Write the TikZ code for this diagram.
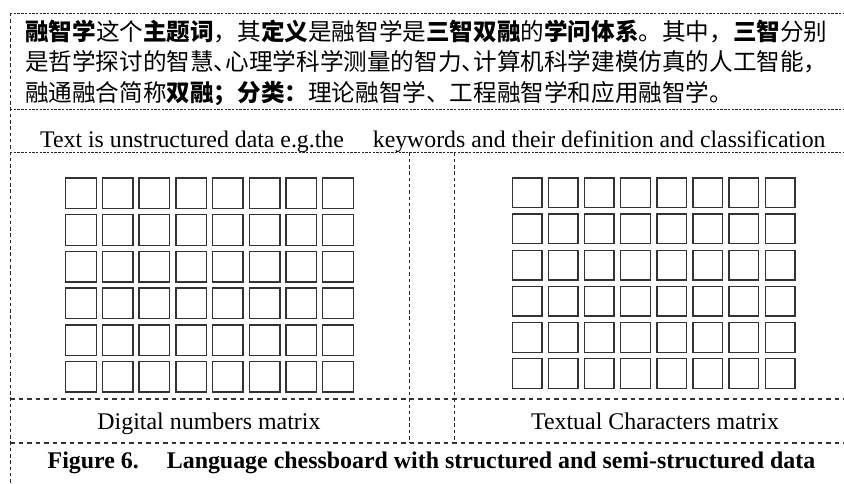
\documentclass[tikz,border=0pt]{standalone}
\usepackage{fontspec}
\setmainfont{Liberation Serif}
\newfontfamily\cjk{Noto Sans CJK SC}
\begin{document}
\begin{tikzpicture}[x=1pt,y=-1pt,
  fine/.style={draw=black!85, dash pattern=on 2.4pt off 1.3pt, line width=0.8pt},
  vdash/.style={draw=black!85, dash pattern=on 3.5pt off 2.8pt, line width=0.9pt},
  coarse/.style={draw=black!80, dash pattern=on 4.5pt off 4pt, line width=1.2pt},
  cnline/.style={anchor=base west, inner sep=0pt, font=\cjk\fontsize{23.6pt}{28pt}\selectfont},
  entext/.style={inner sep=0pt, font=\fontsize{23.8pt}{28pt}\selectfont},
  lab/.style={inner sep=0pt, anchor=base, font=\fontsize{23.9pt}{28pt}\selectfont},
  lcell/.style={draw=black!80, line width=1.4pt, minimum size=30.6pt, inner sep=0pt, outer sep=0pt},
  rcell/.style={draw=black!80, line width=1.4pt, minimum size=29.6pt, inner sep=0pt, outer sep=0pt}]
\useasboundingbox (0,0) rectangle (844,484);
% borders
\draw[fine] (10,13) -- (844,13);
\draw[fine] (10,109) -- (844,109);
\draw[fine] (10,152.5) -- (844,152.5);
\draw[coarse] (10,399) -- (844,399);
\draw[coarse] (10,443) -- (844,443);
\draw[vdash] (10,13) -- (10,484);
\draw[vdash] (409.5,152.5) -- (409.5,443);
\draw[vdash] (454.5,152.5) -- (454.5,443);
% Chinese text
\node[cnline] (l1) at (25,41) {\textbf{融智学}这个\textbf{主题词}，其\textbf{定义}是融智学是\textbf{三智双融}的\textbf{学问体系}。其中，\textbf{三智}分别};
\node[cnline] (l2) at (25,71) {是哲学探讨的智慧、\kern-0.5em心理学科学测量的智力、\kern-0.5em计算机科学建模仿真的人工智能，};
\node[cnline] (l3) at (25,101.5) {融通融合简称\textbf{双融；分类：}理论融智学、工程融智学和应用融智学。};
% English line
\node[entext, anchor=base west] (intro) at (40,147.3) {Text is unstructured data e.g.the\hspace{23pt} keywords and their definition and classification};
% grids
\foreach \i in {0,...,7} {
  \foreach \j in {0,...,5} {
    \node[lcell] (L-\j-\i) at ({65+16+36.7*\i},{177.3+16+36.7*\j}) {};
    \node[rcell] (R-\j-\i) at ({511.5+15.5+36.15*\i},{177.3+15.5+36.15*\j}) {};
  }
}
% labels
\node[lab] (dlab) at (209,429.5) {Digital numbers matrix};
\node[lab] (tlab) at (655,429.5) {Textual Characters matrix};
\node[lab, font=\bfseries\fontsize{23.9pt}{28pt}\selectfont] (cap) at (431.5,468.5) {Figure 6.\hspace{20pt} Language chessboard with structured and semi-structured data};
\end{tikzpicture}
\end{document}
